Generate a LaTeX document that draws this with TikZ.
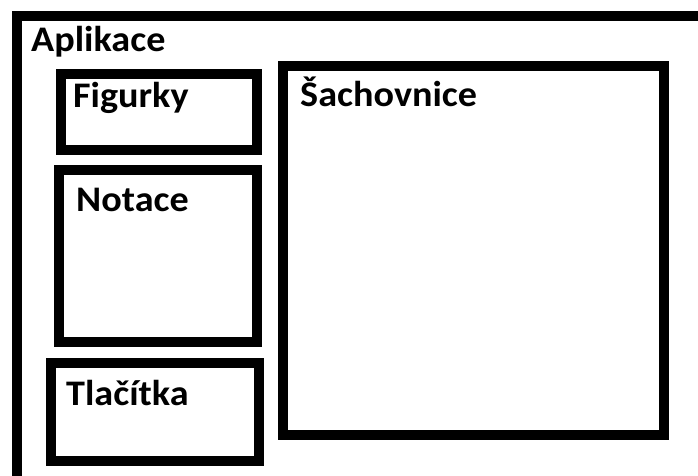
\documentclass[tikz,border=0pt]{standalone}
\usepackage{fontspec}
\setmainfont{Carlito}[FakeStretch=1.06]
\usetikzlibrary{positioning}
\tikzset{
  panel/.style={draw=black, line width=10pt, inner sep=0pt, fill=none},
  lbl/.style={anchor=base west, inner sep=0pt, font=\fontsize{36}{40}\selectfont\bfseries}
}

\begin{document}
\begin{tikzpicture}[x=1pt, y=-1pt]

% Fixed page size as in the reference
\useasboundingbox (0,0) rectangle (698,475);
\clip (0,0) rectangle (698,475);
\fill[white] (0,0) rectangle (698,475);

% Outer application frame (runs off the right and bottom edge)
\node[panel, minimum width=703pt, minimum height=474pt] (aplikace) at (368.5,252.5) {};

% Inner panels
\node[panel, minimum width=196pt, minimum height=76pt]  (figurky) at (159,112) {};
\node[panel, minimum width=198pt, minimum height=172pt] (notace)  at (158,256.3) {};
\node[panel, minimum width=208pt, minimum height=98pt]  (tlacitka) at (155,411.7) {};
\node[panel, minimum width=380.7pt, minimum height=368.8pt] (sachovnice) at (473.7,250.6) {};

% Panel titles
\node[lbl] (taplikace)   at (31,51.7)   {Aplikace};
\node[lbl] (tfigurky)    at (73,107.3)  {Figurky};
\node[lbl] (tnotace)     at (76,211)    {Notace};
\node[lbl] (ttlacitka)   at (66,405)    {Tlačítka};
\node[lbl] (tsachovnice) at (300,106.7) {Šachovnice};

\end{tikzpicture}
\end{document}
